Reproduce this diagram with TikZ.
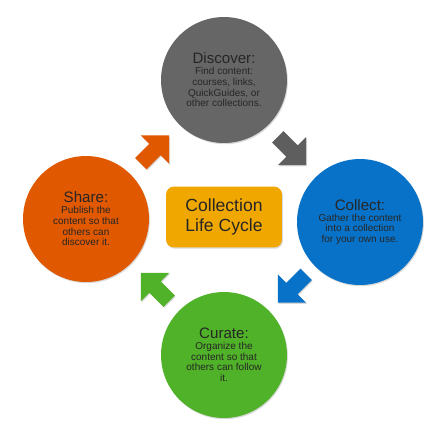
\documentclass[tikz,border=0pt]{standalone}
\usepackage{fontspec}
\setmainfont{Liberation Sans}
\usetikzlibrary{calc,shadows}
\definecolor{discovergray}{RGB}{102,102,102}
\definecolor{arrowgray}{RGB}{94,94,94}
\definecolor{collectblue}{RGB}{8,114,200}
\definecolor{curategreen}{RGB}{80,178,40}
\definecolor{sharedorange}{RGB}{224,88,0}
\definecolor{cyclegold}{RGB}{240,168,0}
\tikzset{
  softshadow/.style={drop shadow={shadow xshift=0.5pt,shadow yshift=-0.7pt,opacity=0.3}},
  phase/.style={circle,minimum size=2.52cm,inner sep=0pt,align=center,text=black!85,
    font=\fontsize{5.7}{6.1}\selectfont,softshadow},
  blockarrow/.pic={\path[pic actions,softshadow] (-20,-8) -- (0,-8) -- (0,-20) -- (20,0)
    -- (0,20) -- (0,8) -- (-20,8) -- cycle;}
}
\newcommand{\phasetitle}[1]{{\fontsize{8.6}{6.1}\selectfont #1}}
\begin{document}
\begin{tikzpicture}[x=0.02cm,y=-0.02cm]
  \useasboundingbox (0,0) rectangle (433,437);
  % the four phases
  \node[phase,fill=discovergray] (discover) at (224,80)
    {\phasetitle{Discover:}\\Find content:\\courses, links,\\QuickGuides, or\\other collections.};
  \node[phase,fill=collectblue] (collect) at (360,222)
    {\phasetitle{Collect:}\\Gather the content\\into a collection\\for your own use.};
  \node[phase,fill=curategreen] (curate) at (224,355)
    {\phasetitle{Curate:}\\Organize the\\content so that\\others can follow\\it.};
  \node[phase,fill=sharedorange] (share) at (86,219)
    {\phasetitle{Share:}\\Publish the\\content so that\\others can\\discover it.};
  % centre label
  \node[fill=cyclegold,rounded corners=0.16cm,minimum width=2.32cm,minimum height=1.22cm,
    align=center,text=black!85,font=\fontsize{10}{11.7}\selectfont,softshadow] (cycle)
    at (224,217) {Collection\\Life Cycle};
  % arrows between phases
  \coordinate (a1) at ($(discover)!0.5!(collect)$);
  \coordinate (a2) at ($(collect)!0.5!(curate)$);
  \coordinate (a3) at ($(curate)!0.5!(share)$);
  \coordinate (a4) at ($(share)!0.5!(discover)$);
  \pic[fill=arrowgray,rotate=-45] at (a1) {blockarrow};
  \pic[fill=collectblue,rotate=-135] at (a2) {blockarrow};
  \pic[fill=curategreen,rotate=135] at (a3) {blockarrow};
  \pic[fill=sharedorange,rotate=45] at (a4) {blockarrow};
\end{tikzpicture}
\end{document}
